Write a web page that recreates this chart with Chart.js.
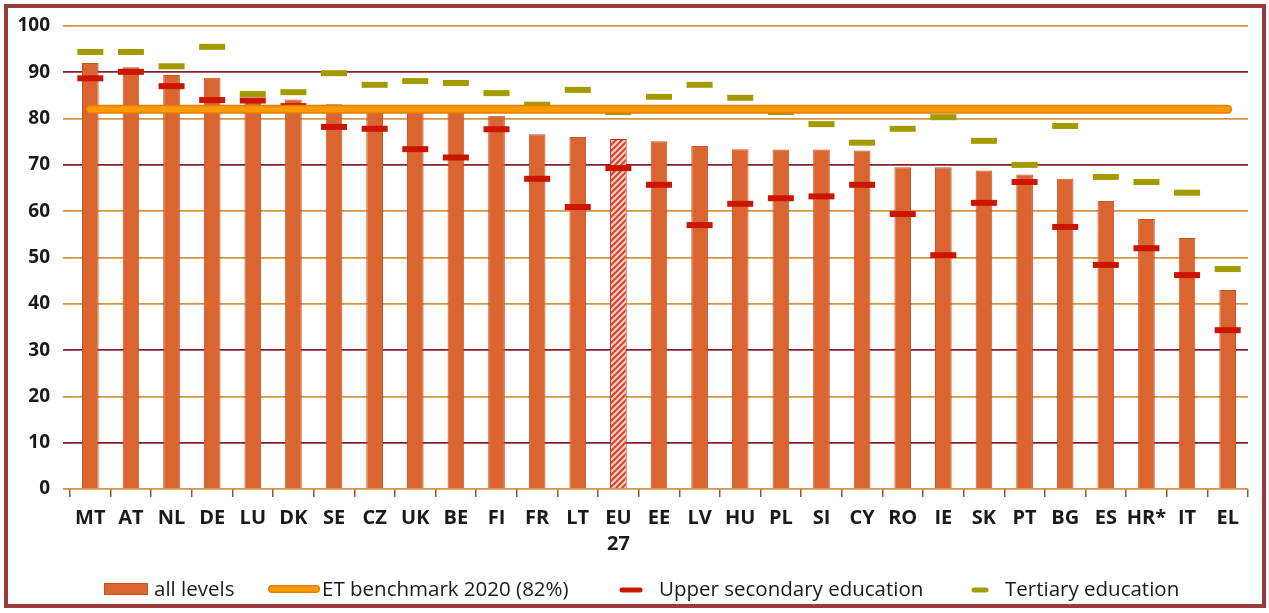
<!DOCTYPE html>
<html>
<head>
<meta charset="utf-8">
<script src="https://cdn.jsdelivr.net/npm/chart.js@4/dist/chart.umd.min.js"></script>
<style>
  html, body { margin: 0; padding: 0; background: #fff; }
  canvas { display: block; }
</style>
</head>
<body>
<canvas id="chart" width="1269" height="613"></canvas>
<script>
// dados
const categories = ['MT','AT','NL','DE','LU','DK','SE','CZ','UK','BE','FI','FR','LT',['EU','27'],
  'EE','LV','HU','PL','SI','CY','RO','IE','SK','PT','BG','ES','HR*','IT','EL'];
const allLevels = [92.0,91.1,89.4,88.8,84.0,84.1,83.1,81.8,81.6,81.5,80.6,76.6,76.0,75.6,
  75.1,74.1,73.4,73.3,73.3,73.1,69.5,69.5,68.8,67.9,67.0,62.2,58.3,54.2,43.0];
const upperSecondary = [88.7,90.1,87.0,84.0,83.9,82.7,78.2,77.8,73.4,71.6,77.7,67.0,60.9,69.3,
  65.7,57.0,61.6,62.8,63.2,65.7,59.4,50.5,61.8,66.3,56.6,48.4,52.0,46.2,34.3];
const tertiary = [94.4,94.4,91.3,95.5,85.3,85.7,89.8,87.3,88.1,87.7,85.5,83.0,86.2,81.4,
  84.7,87.3,84.5,81.4,78.8,74.8,77.8,80.3,75.2,70.0,78.4,67.4,66.3,64.0,47.5];
const benchmark = 82;
const yTicks = [0,10,20,30,40,50,60,70,80,90,100];
const darkGridValues = [10,30,70,90];

const seriesNames = ['all levels','ET benchmark 2020 (82%)','Upper secondary education','Tertiary education'];

const BAR = '#DB6530', BAR_EDGE = '#C9501F';
const RED = '#CC1500', OLIVE = '#A39A00';
const BENCH = '#FF9A00', BENCH_EDGE = '#E07E00';
const gridColor = v => darkGridValues.includes(v) ? '#84202E' : '#D29642';

// padrão hachurado para a média UE27
function hatch() {
  const c = document.createElement('canvas');
  c.width = 6; c.height = 6;
  const x = c.getContext('2d');
  x.fillStyle = '#F6CFC2';
  x.fillRect(0, 0, 6, 6);
  x.strokeStyle = '#D8432C';
  x.lineWidth = 2;
  x.beginPath();
  x.moveTo(-1, 7); x.lineTo(7, -1);
  x.moveTo(-4, 4); x.lineTo(4, -4);
  x.moveTo(2, 10); x.lineTo(10, 2);
  x.stroke();
  return x.createPattern(c, 'repeat');
}
const ctx = document.getElementById('chart').getContext('2d');
const hatchFill = hatch();
const barColors = categories.map(c => Array.isArray(c) ? hatchFill : BAR);
const barEdges = categories.map(c => Array.isArray(c) ? '#C8281A' : BAR_EDGE);

// moldura + legenda
const framePlugin = {
  id: 'frame',
  afterDraw(chart) {
    const c = chart.ctx;
    c.save();
    c.strokeStyle = '#973B3B';
    c.lineWidth = 4;
    c.strokeRect(6, 6, 1258, 600);

    const y = 590;
    c.font = '20.5px "Open Sans"';
    c.textBaseline = 'middle';
    // all levels
    c.fillStyle = BAR; c.fillRect(104, 583, 44, 12);
    c.strokeStyle = BAR_EDGE; c.lineWidth = 1; c.strokeRect(104.5, 583.5, 43, 11);
    c.fillStyle = '#1a1a1a'; c.fillText(seriesNames[0], 154, y);
    // benchmark
    c.lineCap = 'round';
    c.strokeStyle = BENCH_EDGE; c.lineWidth = 8;
    c.beginPath(); c.moveTo(272, y - 1); c.lineTo(316, y - 1); c.stroke();
    c.strokeStyle = BENCH; c.lineWidth = 5;
    c.beginPath(); c.moveTo(272, y - 1); c.lineTo(316, y - 1); c.stroke();
    c.fillStyle = '#1a1a1a'; c.fillText(seriesNames[1], 322, y);
    // markers
    c.lineCap = 'round';
    c.strokeStyle = RED; c.lineWidth = 5;
    c.beginPath(); c.moveTo(622, y); c.lineTo(640, y); c.stroke();
    c.fillText(seriesNames[2], 659, y);
    c.strokeStyle = OLIVE;
    c.beginPath(); c.moveTo(974, y); c.lineTo(986, y); c.stroke();
    c.fillText(seriesNames[3], 1005, y);
    c.restore();
  }
};

new Chart(ctx, {
  type: 'bar',
  data: {
    labels: categories,
    datasets: [
      {
        type: 'line', label: seriesNames[1], data: categories.map(() => benchmark),
        borderColor: BENCH, borderWidth: 6, borderCapStyle: 'round',
        pointRadius: 0, order: 0
      },
      {
        type: 'line', label: 'edge', data: categories.map(() => benchmark),
        borderColor: BENCH_EDGE, borderWidth: 9, borderCapStyle: 'round',
        pointRadius: 0, order: 1
      },
      {
        type: 'line', label: seriesNames[2], data: upperSecondary, showLine: false,
        pointStyle: 'line', pointRadius: 13, pointBorderWidth: 6,
        pointBorderColor: RED, pointBackgroundColor: RED, order: 2
      },
      {
        type: 'line', label: seriesNames[3], data: tertiary, showLine: false,
        pointStyle: 'line', pointRadius: 13, pointBorderWidth: 6,
        pointBorderColor: OLIVE, pointBackgroundColor: OLIVE, order: 3
      },
      {
        label: seriesNames[0], data: allLevels,
        backgroundColor: barColors, borderColor: barEdges, borderWidth: 1,
        barPercentage: 0.41, categoryPercentage: 1, order: 4
      }
    ]
  },
  options: {
    responsive: false,
    animation: false,
    devicePixelRatio: 1,
    layout: { padding: { left: 8, right: 21, top: 26, bottom: 52 } },
    plugins: { legend: { display: false }, tooltip: { enabled: false } },
    scales: {
      x: {
        grid: { display: true, drawOnChartArea: false, tickLength: 8, color: '#A0502E', lineWidth: 1.5 },
        border: { display: false },
        ticks: {
          color: '#1a1a1a', autoSkip: false, maxRotation: 0, padding: 8,
          font: { family: 'Open Sans', size: 20, weight: '700', lineHeight: 1.3 }
        },
        afterFit: s => { s.height = 72; }
      },
      y: {
        min: 0, max: 100,
        afterBuildTicks: s => { s.ticks = yTicks.map(v => ({ value: v })); },
        grid: {
          drawTicks: true, tickLength: 7,
          color: c => gridColor(c.tick.value),
          lineWidth: 1.8
        },
        border: { display: false },
        ticks: {
          color: '#1a1a1a', padding: 13,
          font: { family: 'Open Sans', size: 19, weight: '700' }
        },
        afterFit: s => { s.width = 62; }
      }
    }
  },
  plugins: [framePlugin]
});
</script>
</body>
</html>
